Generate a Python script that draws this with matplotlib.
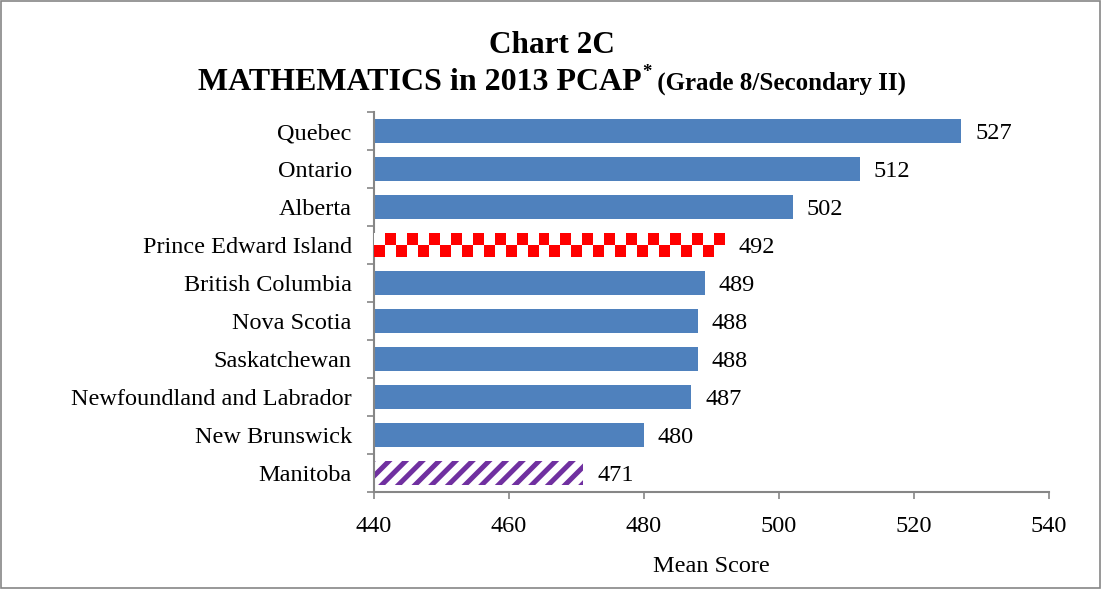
import matplotlib
matplotlib.use("Agg")
import matplotlib.pyplot as plt
from matplotlib.patches import Rectangle
from matplotlib.ticker import FixedLocator
import numpy as np

# chart data
provinces = ["Quebec", "Ontario", "Alberta", "Prince Edward Island", "British Columbia",
             "Nova Scotia", "Saskatchewan", "Newfoundland and Labrador", "New Brunswick", "Manitoba"]
scores = [527, 512, 502, 492, 489, 488, 488, 487, 480, 471]
x_ticks = [440, 460, 480, 500, 520, 540]

blue = "#4F81BD"
red = "#FF0000"
purple = "#7030A0"
grey = "#868686"
fs = 17.5

plt.rcParams["font.family"] = ["Liberation Serif", "DejaVu Serif"]
plt.rcParams["hatch.linewidth"] = 3.6

fig = plt.figure(figsize=(11.02, 5.89), dpi=100)
ax = fig.add_axes([0.3394, 0.1647, 0.6125, 0.645])

pos = np.arange(len(provinces))
bars = ax.barh(pos, [s - 440 for s in scores], left=440, height=0.62, color=blue, zorder=2)

# Prince Edward Island: red/white checkerboard
pei = bars[3]
pei.set_facecolor("white")
cols, rows = 32, 2
checker = (np.indices((rows, cols)).sum(axis=0) % 2).astype(float)
cmap = matplotlib.colors.ListedColormap(["white", red])
img = ax.imshow(checker, cmap=cmap, aspect="auto", interpolation="nearest",
                extent=(pei.get_x(), pei.get_x() + pei.get_width(),
                        pei.get_y() + pei.get_height(), pei.get_y()), zorder=3)
img.set_clip_path(pei)

# Manitoba: purple diagonal stripes
man = bars[-1]
man.set_facecolor("white")
man.set_edgecolor(purple)
man.set_hatch("//")
man.set_linewidth(0)

ax.set_xlim(440, 540)
ax.set_ylim(len(provinces) - 0.5, -0.5)
ax.set_xticks(x_ticks)
ax.set_yticks(pos)
ax.set_yticklabels(provinces)
ax.yaxis.set_minor_locator(FixedLocator(np.arange(-0.5, len(provinces), 1.0)))

ax.tick_params(axis="y", which="major", length=0, pad=16, labelsize=fs)
ax.tick_params(axis="y", which="minor", length=5, width=1.2, color=grey, direction="out")
ax.tick_params(axis="x", length=5, width=1.2, color=grey, direction="out", pad=12, labelsize=fs)

for s in ["top", "right"]:
    ax.spines[s].set_visible(False)
for s in ["left", "bottom"]:
    ax.spines[s].set_color(grey)
    ax.spines[s].set_linewidth(1.5)

ax.set_xlabel("Mean Score", fontsize=fs, labelpad=14)

# value labels
for b, s in zip(bars, scores):
    ax.annotate(str(s), xy=(b.get_x() + b.get_width(), b.get_y() + b.get_height() / 2),
                xytext=(10, -1.5), textcoords="offset points", va="center", ha="left", fontsize=fs)

# titles
fig.text(0.501, 0.910, "Chart 2C", ha="center", va="baseline", fontsize=22.5, fontweight="bold")
parts = [("MATHEMATICS in 2013 PCAP", 23, 0.0), ("*", 13.5, 0.022), (" (Grade 8/Secondary II)", 18, 0.0)]
texts = [fig.text(0, 0.848 + dy, t, ha="left", va="baseline", fontsize=size, fontweight="bold")
         for t, size, dy in parts]
fig.canvas.draw()
r = fig.canvas.get_renderer()
widths = [t.get_window_extent(r).width / fig.bbox.width for t in texts]
x0 = 0.501 - sum(widths) / 2
for t, w in zip(texts, widths):
    t.set_x(x0)
    x0 += w

# outer border
fig.patches.append(Rectangle((0.001, 0.002), 0.997, 0.996, transform=fig.transFigure,
                             fill=False, edgecolor=grey, linewidth=1.2))

fig.savefig("out.png", dpi=100)
